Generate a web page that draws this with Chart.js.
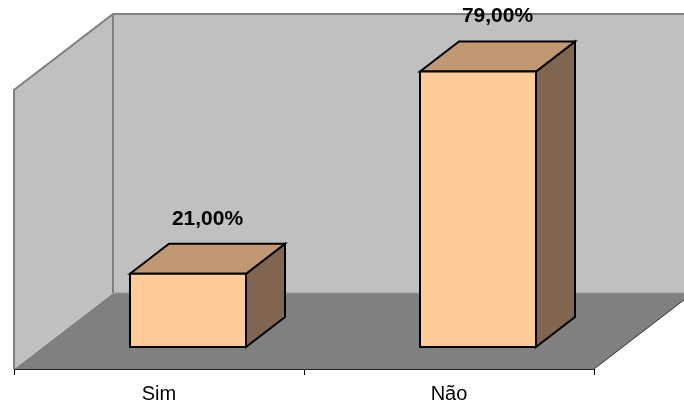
<!DOCTYPE html>
<html>
<head>
<meta charset="utf-8">
<script src="https://cdn.jsdelivr.net/npm/chart.js@4.4.0/dist/chart.umd.min.js"></script>
<style>
  html, body { margin: 0; padding: 0; background: #fff; }
  canvas { display: block; }
</style>
</head>
<body>
<canvas id="chart" width="684" height="408"></canvas>
<script>
const categories = ['Sim', 'Não']
const values = [21, 79]
const yMin = 0
const yMax = 80

// depth of the whole box and of the bars (px), Excel style oblique projection
const DEPTH = { x: 99, y: -76 }
const BAR_FRONT = { x: 29, y: -22 }
const BAR_DEPTH = { x: 39, y: -30 }

function poly(ctx, pts, fill, stroke, lw) {
    ctx.beginPath()
    ctx.moveTo(pts[0][0], pts[0][1])
    for (let i = 1; i < pts.length; i++) ctx.lineTo(pts[i][0], pts[i][1])
    ctx.closePath()
    if (fill) { ctx.fillStyle = fill; ctx.fill() }
    if (stroke) { ctx.strokeStyle = stroke; ctx.lineWidth = lw || 1; ctx.stroke() }
}

const box3d = {
    id: 'box3d',
    beforeDatasetsDraw(chart) {
        const { ctx, chartArea: a } = chart
        const L = a.left, R = a.right, T = a.top, B = a.bottom
        const dx = DEPTH.x, dy = DEPTH.y
        ctx.save()
        ctx.lineJoin = 'miter'
        // floor
        poly(ctx, [[L, B], [R, B], [R + dx, B + dy], [L + dx, B + dy]], '#808080')
        // left wall
        poly(ctx, [[L, T], [L + dx, T + dy], [L + dx, B + dy], [L, B]], '#c0c0c0')
        // back wall
        poly(ctx, [[L + dx, T + dy], [R + dx, T + dy], [R + dx, B + dy], [L + dx, B + dy]], '#c0c0c0')
        // wall edges
        ctx.strokeStyle = '#808080'
        ctx.lineWidth = 2
        ctx.beginPath()
        ctx.moveTo(L, B)
        ctx.lineTo(L, T)
        ctx.lineTo(L + dx, T + dy)
        ctx.lineTo(R + dx + 5, T + dy)
        ctx.moveTo(L + dx, T + dy)
        ctx.lineTo(L + dx, B + dy)
        ctx.stroke()
        ctx.strokeStyle = '#9a9a9a'
        ctx.lineWidth = 1
        ctx.beginPath()
        ctx.moveTo(L + dx, B + dy)
        ctx.lineTo(R + dx, B + dy)
        ctx.stroke()
        // floor right edge
        ctx.strokeStyle = '#333'
        ctx.beginPath()
        ctx.moveTo(R, B)
        ctx.lineTo(R + dx, B + dy)
        ctx.stroke()
        ctx.restore()
    },
    afterDatasetsDraw(chart) {
        const { ctx } = chart
        const meta = chart.getDatasetMeta(0)
        ctx.save()
        ctx.lineJoin = 'miter'
        meta.data.forEach((el, i) => {
            const p = el.getProps(['x', 'y', 'base', 'width'], true)
            const x0 = p.x - p.width / 2 + BAR_FRONT.x
            const x1 = p.x + p.width / 2 + BAR_FRONT.x
            const yt = p.y + BAR_FRONT.y
            const yb = p.base + BAR_FRONT.y
            const dx = BAR_DEPTH.x, dy = BAR_DEPTH.y
            // side
            poly(ctx, [[x1, yt], [x1 + dx, yt + dy], [x1 + dx, yb + dy], [x1, yb]], '#806650', '#000', 2)
            // top
            poly(ctx, [[x0, yt], [x0 + dx, yt + dy], [x1 + dx, yt + dy], [x1, yt]], '#c09972', '#000', 2)
            // front
            poly(ctx, [[x0, yt], [x1, yt], [x1, yb], [x0, yb]], '#ffcc99', '#000', 2)
            // value label
            ctx.fillStyle = '#000'
            ctx.font = 'bold 21px "Liberation Sans", Arial, sans-serif'
            ctx.textAlign = 'center'
            ctx.textBaseline = 'middle'
            const lbl = values[i].toFixed(2).replace('.', ',') + '%'
            ctx.fillText(lbl, (x0 + x1) / 2 + dx / 2, yt + dy / 2 - 40)
        })
        ctx.restore()
    }
}

new Chart(document.getElementById('chart'), {
    type: 'bar',
    data: {
        labels: categories,
        datasets: [{
            data: values,
            backgroundColor: 'rgba(0,0,0,0)',
            borderWidth: 0,
            categoryPercentage: 1,
            barPercentage: 0.4
        }]
    },
    options: {
        responsive: false,
        animation: false,
        layout: { padding: { left: 14, right: 90, top: 90, bottom: 0 } },
        plugins: {
            legend: { display: false },
            tooltip: { enabled: false }
        },
        scales: {
            y: { display: false, min: yMin, max: yMax },
            x: {
                grid: {
                    display: true,
                    offset: true,
                    drawOnChartArea: false,
                    drawTicks: true,
                    tickLength: 6,
                    color: '#000'
                },
                border: { display: true, color: '#222', width: 1 },
                ticks: {
                    color: '#000',
                    padding: 7,
                    font: { family: '"Liberation Sans", Arial, sans-serif', size: 20 }
                },
                afterFit(scale) { scale.height = 39 }
            }
        }
    },
    plugins: [box3d]
})
</script>
</body>
</html>
